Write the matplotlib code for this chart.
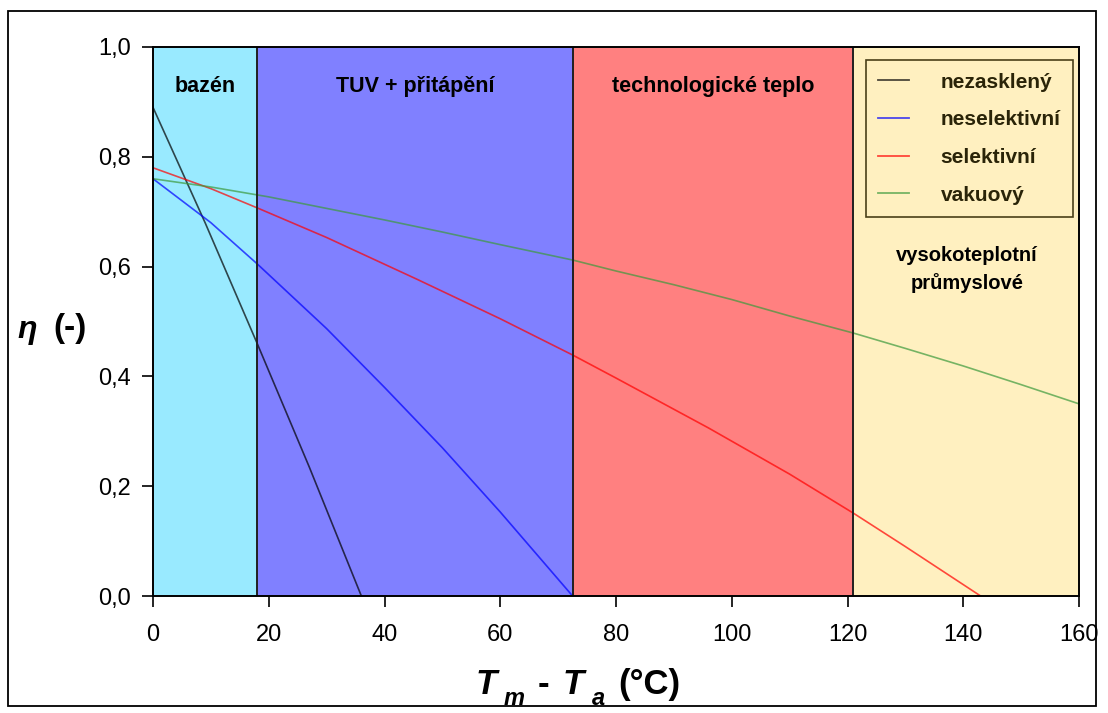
import matplotlib
matplotlib.use("Agg")
import matplotlib.pyplot as plt
from matplotlib.patches import Rectangle
from matplotlib.lines import Line2D

# ---- data ----
x_nezaskleny = [0, 9, 18, 27, 36]
y_nezaskleny = [0.89, 0.68, 0.46, 0.235, 0.0]

x_neselektivni = [0, 10, 18, 30, 40, 50, 60, 72.5]
y_neselektivni = [0.76, 0.68, 0.605, 0.487, 0.38, 0.27, 0.153, 0.0]

x_selektivni = [0, 10, 18, 30, 45.6, 60, 72.5, 80, 96, 110, 121, 130, 143]
y_selektivni = [0.78, 0.742, 0.707, 0.653, 0.577, 0.505, 0.439, 0.397, 0.306, 0.222, 0.151, 0.09, 0.0]

x_vakuovy = [0, 10, 20, 30, 40, 50, 60, 72.5, 80, 90, 100, 110, 121, 130, 140, 150, 160]
y_vakuovy = [0.76, 0.745, 0.727, 0.706, 0.685, 0.663, 0.64, 0.612, 0.592, 0.567, 0.54, 0.51, 0.479, 0.451, 0.419, 0.385, 0.35]

region_bounds = [0, 18, 72.5, 121, 160]
region_colors = ["#99EAFF", "#8080FF", "#FF8080", "#FFF0C0"]
region_labels = ["bazén", "TUV + přitápění", "technologické teplo", ""]

series_names = ["nezasklený", "neselektivní", "selektivní", "vakuový"]
series_colors = ["#000000", "#0000FF", "#FF0000", "#3C9A3C"]

x_ticks = [0, 20, 40, 60, 80, 100, 120, 140, 160]
y_ticks = [0.0, 0.2, 0.4, 0.6, 0.8, 1.0]
y_ticklabels = ["0,0", "0,2", "0,4", "0,6", "0,8", "1,0"]

W, H = 1108, 713
fig = plt.figure(figsize=(W / 100, H / 100), dpi=100)
fig.patch.set_facecolor("white")

def fx(px):
    return px / W

def fy(py):
    return 1 - py / H

# outer border
fig.patches.append(Rectangle((fx(8), fy(706)), fx(1096) - fx(8), fy(11) - fy(706),
                             transform=fig.transFigure, fill=False, edgecolor="black", lw=1.3))

ax = fig.add_axes([fx(153), fy(596), fx(1079) - fx(153), fy(47) - fy(596)])
ax.set_xlim(0, 160)
ax.set_ylim(0, 1.0)

for i in range(4):
    ax.axvspan(region_bounds[i], region_bounds[i + 1], color=region_colors[i], zorder=0, lw=0)
for b in region_bounds[1:-1]:
    ax.axvline(b, color="#202020", lw=1.4, zorder=3)

data = [(x_nezaskleny, y_nezaskleny), (x_neselektivni, y_neselektivni),
        (x_selektivni, y_selektivni), (x_vakuovy, y_vakuovy)]
for (xs, ys), c in zip(data, series_colors):
    ax.plot(xs, ys, color=c, lw=1.2, alpha=0.7, zorder=2)

label_font = ["Liberation Sans", "DejaVu Sans"]
for i in range(3):
    cx = (region_bounds[i] + region_bounds[i + 1]) / 2
    ax.text(cx, 0.928, region_labels[i], ha="center", va="center", fontsize=15.5,
            fontweight="bold", family=label_font, zorder=4)
ax.text(140.6, 0.621, "vysokoteplotní", ha="center", va="center", fontsize=14.5,
        fontweight="bold", family=label_font, zorder=4)
ax.text(140.6, 0.570, "průmyslové", ha="center", va="center", fontsize=14.5,
        fontweight="bold", family=label_font, zorder=4)

handles = [Line2D([], [], color=c, lw=1.3, alpha=0.7) for c in series_colors]
leg = ax.legend(handles, series_names, loc="upper right",
                bbox_to_anchor=(fx(1073), fy(60)), bbox_transform=fig.transFigure,
                borderaxespad=0, frameon=True, fancybox=False, handlelength=1.5,
                handletextpad=1.5, labelspacing=0.9, borderpad=0.6,
                prop={"family": label_font, "weight": "bold", "size": 15})
leg.get_frame().set_facecolor("#FFF0C0")
leg.get_frame().set_edgecolor("#4A4018")
leg.get_frame().set_linewidth(1.2)
leg.get_frame().set_alpha(1)
leg.set_zorder(5)
for t in leg.get_texts():
    t.set_color("#2A2408")

tick_font = ["Liberation Sans Narrow", "Liberation Sans", "DejaVu Sans"]
ax.set_xticks(x_ticks)
ax.set_xticklabels([str(v) for v in x_ticks], family=tick_font, fontsize=17)
ax.set_yticks(y_ticks)
ax.set_yticklabels(y_ticklabels, family=tick_font, fontsize=17)
ax.tick_params(axis="both", direction="out", length=8, width=1.2, color="black")
ax.tick_params(axis="x", pad=12)
ax.tick_params(axis="y", pad=8)
for s in ax.spines.values():
    s.set_color("black")
    s.set_linewidth(1.4)
    s.set_zorder(6)

# x label: T_m - T_a (°C)
xl = dict(family=label_font, fontweight="bold", color="black")
fig.text(fx(476), fy(694), "T", fontsize=25, style="italic", **xl)
fig.text(fx(504), fy(705), "m", fontsize=17, style="italic", **xl)
fig.text(fx(538), fy(694), "-", fontsize=25, **xl)
fig.text(fx(563), fy(694), "T", fontsize=25, style="italic", **xl)
fig.text(fx(592), fy(705), "a", fontsize=17, style="italic", **xl)
fig.text(fx(618), fy(694), "(°C)", fontsize=25, **xl)

# y label: η (-)
fig.text(fx(17), fy(338), "η", fontsize=23, style="italic", **xl)
fig.text(fx(53), fy(337), "(-)", fontsize=24, **xl)

fig.savefig("out.png", dpi=100)
